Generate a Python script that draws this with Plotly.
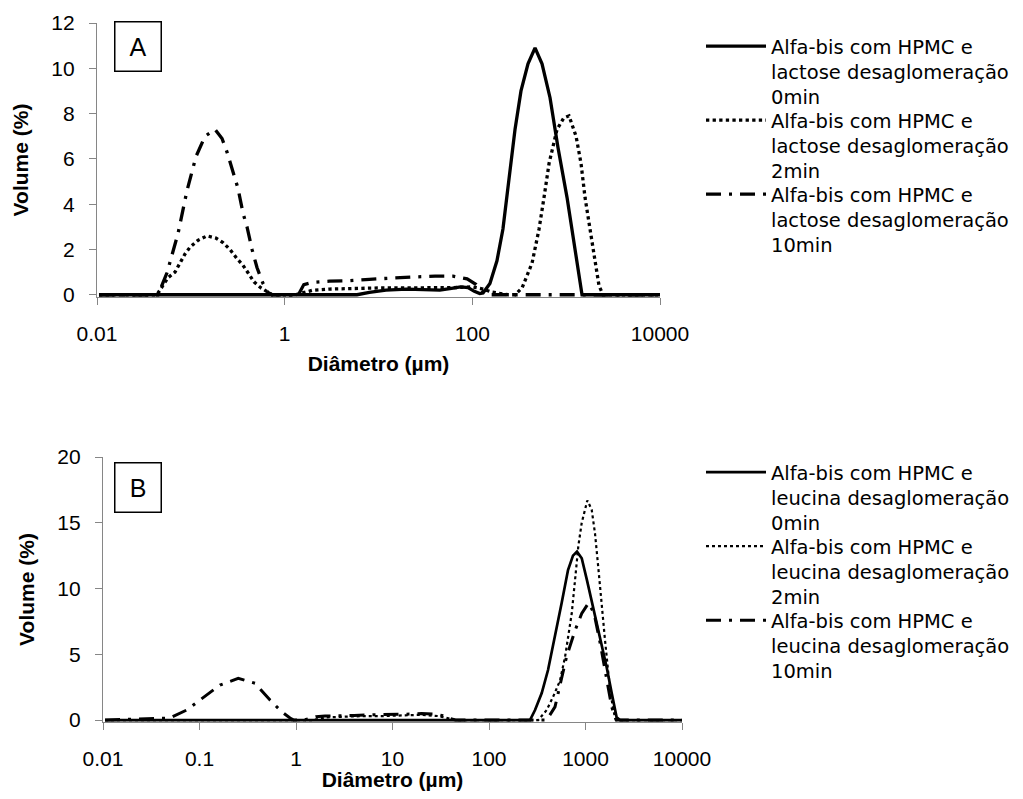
import plotly.graph_objects as go

# ---------------- Data ----------------
# Panel A (lactose)
a0_x = [0.0105, 5.9, 8, 12, 20, 30, 45, 60, 75, 90, 105, 120, 130, 154, 183, 212, 246, 285,
        330, 392, 466, 553, 673, 818, 1021, 1242, 1476, 10000]
a0_y = [0, 0, 0.1, 0.2, 0.25, 0.22, 0.2, 0.28, 0.35, 0.32, 0.15, 0.05, 0.08, 0.5, 1.5, 2.9, 5.0, 7.3,
        9.0, 10.2, 10.9, 10.2, 8.7, 6.5, 4.3, 2.0, 0, 0]

a2_x = [0.0105, 0.0435, 0.0571, 0.0678, 0.0767, 0.0867, 0.098, 0.119, 0.149, 0.185, 0.22, 0.261,
        0.31, 0.36, 0.407, 0.471, 0.56, 0.664, 0.733, 1.3, 1.6, 2, 3, 5, 10, 20, 40, 70, 100, 130,
        160, 200, 240, 285, 339, 433, 514, 581, 657, 799, 940, 1072, 1274, 1440, 1588, 1795, 2029,
        2239, 2472, 10000]
a2_y = [0, 0, 0.75, 1.0, 1.4, 1.8, 2.1, 2.4, 2.6, 2.5, 2.3, 2.0,
        1.6, 1.3, 0.97, 0.57, 0.3, 0.1, 0, 0, 0.1, 0.2, 0.25, 0.28, 0.3, 0.3, 0.3, 0.32, 0.35, 0.25,
        0.12, 0.05, 0, 0, 0.3, 1.4, 2.9, 4.3, 5.8, 7.3, 7.8, 7.9, 7.0, 5.8, 4.3, 2.9, 1.4,
        0.4, 0, 0]

a10_x = [0.0105, 0.0447, 0.0469, 0.0557, 0.073, 0.091, 0.1135, 0.1416, 0.181, 0.215, 0.243, 0.281,
         0.318, 0.36, 0.397, 0.449, 0.507, 0.587, 0.664, 0.733, 1.4, 1.6, 2, 3, 5, 8, 15, 22, 40,
         62, 88, 110, 130, 150, 10000]
a10_y = [0, 0, 0.2, 0.97, 2.7, 4.6, 6.1, 7.0, 7.3, 6.9, 6.3, 5.4,
         4.7, 3.6, 3.0, 2.0, 1.2, 0.5, 0.1, 0, 0, 0.45, 0.55, 0.6, 0.62, 0.68, 0.72, 0.78, 0.82,
         0.82, 0.7, 0.45, 0.15, 0, 0]

# Panel B (leucina)
b0_x = [0.0105, 266, 300, 352, 409, 483, 566, 659, 742, 816, 914, 1038, 1197, 1414, 1659, 1868,
        2104, 2279, 10000]
b0_y = [0, 0, 0.76, 2.05, 3.8, 6.3, 8.9, 11.4, 12.5, 12.8, 12.3, 10.6, 8.6, 6.3, 4.0, 2.05,
        0.2, 0, 0]

b2_x = [0.0105, 1.5, 2, 3, 5, 8, 12, 20, 30, 40, 45, 324, 396, 464, 544, 614, 664, 720, 778, 842,
        914, 1045, 1159, 1254, 1357, 1472, 1592, 1722, 1868, 2022, 2104, 10000]
b2_y = [0, 0, 0.2, 0.25, 0.3, 0.3, 0.35, 0.4, 0.3, 0.1, 0, 0, 0.76, 1.8, 3.0, 4.8, 6.3, 8.1, 10.6, 13.2,
        15.0, 16.7, 16.0, 14.2, 11.6, 8.6, 6.1, 3.6, 1.5, 0.15, 0, 0]

b10_x = [0.0105, 0.0494, 0.0736, 0.114, 0.163, 0.252, 0.376, 0.538, 0.711, 0.867, 0.95, 1.2, 1.6, 2,
         3, 4, 6, 10, 15, 20, 28, 35, 40, 45, 396, 483, 636, 778, 914, 1076, 1228, 1414, 1659,
         1868, 2080, 10000]
b10_y = [0, 0.15, 0.76, 1.8, 2.66, 3.17, 2.8, 1.52, 0.63, 0.15, 0, 0, 0.25, 0.3,
         0.3, 0.35, 0.4, 0.4, 0.45, 0.5, 0.45, 0.3, 0.1, 0, 0, 1.0, 4.8, 6.8, 8.1, 8.9, 8.1, 5.9, 3.0,
         1.0, 0, 0]

legend_a = ["Alfa-bis com HPMC e<br>lactose desaglomeração<br>0min",
            "Alfa-bis com HPMC e<br>lactose desaglomeração<br>2min",
            "Alfa-bis com HPMC e<br>lactose desaglomeração<br>10min"]
legend_b = ["Alfa-bis com HPMC e<br>leucina desaglomeração<br>0min",
            "Alfa-bis com HPMC e<br>leucina desaglomeração<br>2min",
            "Alfa-bis com HPMC e<br>leucina desaglomeração<br>10min"]

x_ticks_a = [0.01, 1, 100, 10000]
x_ticklabels_a = ["0.01", "1", "100", "10000"]
x_ticks_b = [0.01, 0.1, 1, 10, 100, 1000, 10000]
x_ticklabels_b = ["0.01", "0.1", "1", "10", "100", "1000", "10000"]
y_ticks_a = [0, 2, 4, 6, 8, 10, 12]
y_ticks_b = [0, 5, 10, 15, 20]

# ---------------- Figure ----------------
# The page body has an 8px margin, so the figure is drawn 8px in from the window corner.
OFF = 8
W, H = 1023 - 2 * OFF, 799 - 2 * OFF
DASHDOT = "15px,8px,3px,8px"


def px2x(p):
    return (p - OFF) / W


def px2y(p):
    return 1 - (p - OFF) / H


fig = go.Figure()
fig.add_trace(go.Scatter(x=a0_x, y=a0_y, mode="lines", name=legend_a[0],
                         line=dict(color="black", width=3.3), xaxis="x", yaxis="y", legend="legend"))
fig.add_trace(go.Scatter(x=a2_x, y=a2_y, mode="lines", name=legend_a[1],
                         line=dict(color="black", width=3.3, dash="dot"), xaxis="x", yaxis="y", legend="legend2"))
fig.add_trace(go.Scatter(x=a10_x, y=a10_y, mode="lines", name=legend_a[2],
                         line=dict(color="black", width=3.3, dash=DASHDOT), xaxis="x", yaxis="y", legend="legend3"))

fig.add_trace(go.Scatter(x=b0_x, y=b0_y, mode="lines", name=legend_b[0],
                         line=dict(color="black", width=2.7), xaxis="x2", yaxis="y2", legend="legend4"))
fig.add_trace(go.Scatter(x=b2_x, y=b2_y, mode="lines", name=legend_b[1],
                         line=dict(color="black", width=2.2, dash="dot"), xaxis="x2", yaxis="y2", legend="legend5"))
fig.add_trace(go.Scatter(x=b10_x, y=b10_y, mode="lines", name=legend_b[2],
                         line=dict(color="black", width=3.0, dash=DASHDOT), xaxis="x2", yaxis="y2", legend="legend6"))

tick_font = dict(family="Liberation Sans, Arial, sans-serif", size=21, color="black")
title_font = dict(family="Liberation Sans, Arial, sans-serif", size=21, color="black", weight="bold")
legend_font = dict(family="DejaVu Sans, sans-serif", size=19.5, color="black")
axis_gray = "#868686"

common_x = dict(type="log", range=[-2, 4], showgrid=False, zeroline=False, showline=True,
                linecolor=axis_gray, linewidth=1.3, ticks="outside", ticklen=7, tickcolor=axis_gray,
                tickwidth=1.3, tickfont=tick_font, ticklabelstandoff=11, layer="below traces",
                automargin=False)
common_y = dict(showgrid=False, zeroline=False, showline=True, linecolor=axis_gray, linewidth=1.3,
                ticks="outside", ticklen=7, tickcolor=axis_gray, tickwidth=1.3, tickfont=tick_font,
                ticklabelstandoff=10, layer="below traces", automargin=False)


def make_legend(top_px):
    return dict(x=px2x(701), y=px2y(top_px), xanchor="left", yanchor="top",
                font=legend_font, valign="top", itemwidth=60,
                bgcolor="rgba(0,0,0,0)", tracegroupgap=0)


fig.update_layout(
    width=W, height=H,
    margin=dict(l=0, r=0, t=0, b=0, autoexpand=False),
    paper_bgcolor="white", plot_bgcolor="white",
    xaxis=dict(**common_x, domain=[px2x(97), px2x(660)], anchor="y",
               tickvals=x_ticks_a, ticktext=x_ticklabels_a,
               title=dict(text="Diâmetro (µm)", font=title_font, standoff=11)),
    yaxis=dict(**common_y, domain=[px2y(297), px2y(23)], anchor="x", range=[-0.1, 12],
               tickvals=y_ticks_a,
               title=dict(text="Volume (%)", font=title_font, standoff=16)),
    xaxis2=dict(**common_x, domain=[px2x(103), px2x(682)], anchor="y2",
                tickvals=x_ticks_b, ticktext=x_ticklabels_b,
                title=dict(text="Diâmetro (µm)", font=title_font, standoff=9)),
    yaxis2=dict(**common_y, domain=[px2y(722), px2y(457)], anchor="x2", range=[-0.15, 20],
                tickvals=y_ticks_b,
                title=dict(text="Volume (%)", font=title_font, standoff=16)),
    legend=make_legend(27),
    legend2=make_legend(101),
    legend3=make_legend(175),
    legend4=make_legend(453),
    legend5=make_legend(527),
    legend6=make_legend(601),
    showlegend=True,
    annotations=[
        dict(text="A", xref="paper", yref="paper", x=px2x(137.5), y=px2y(47),
             xanchor="center", yanchor="middle", showarrow=False,
             font=dict(family="Liberation Sans, Arial, sans-serif", size=25, color="black"),
             bordercolor="black", borderwidth=1.5, borderpad=0, width=45, height=48),
        dict(text="B", xref="paper", yref="paper", x=px2x(137.5), y=px2y(488),
             xanchor="center", yanchor="middle", showarrow=False,
             font=dict(family="Liberation Sans, Arial, sans-serif", size=25, color="black"),
             bordercolor="black", borderwidth=1.5, borderpad=0, width=45, height=48),
    ],
)

fig.write_html("out.html")
